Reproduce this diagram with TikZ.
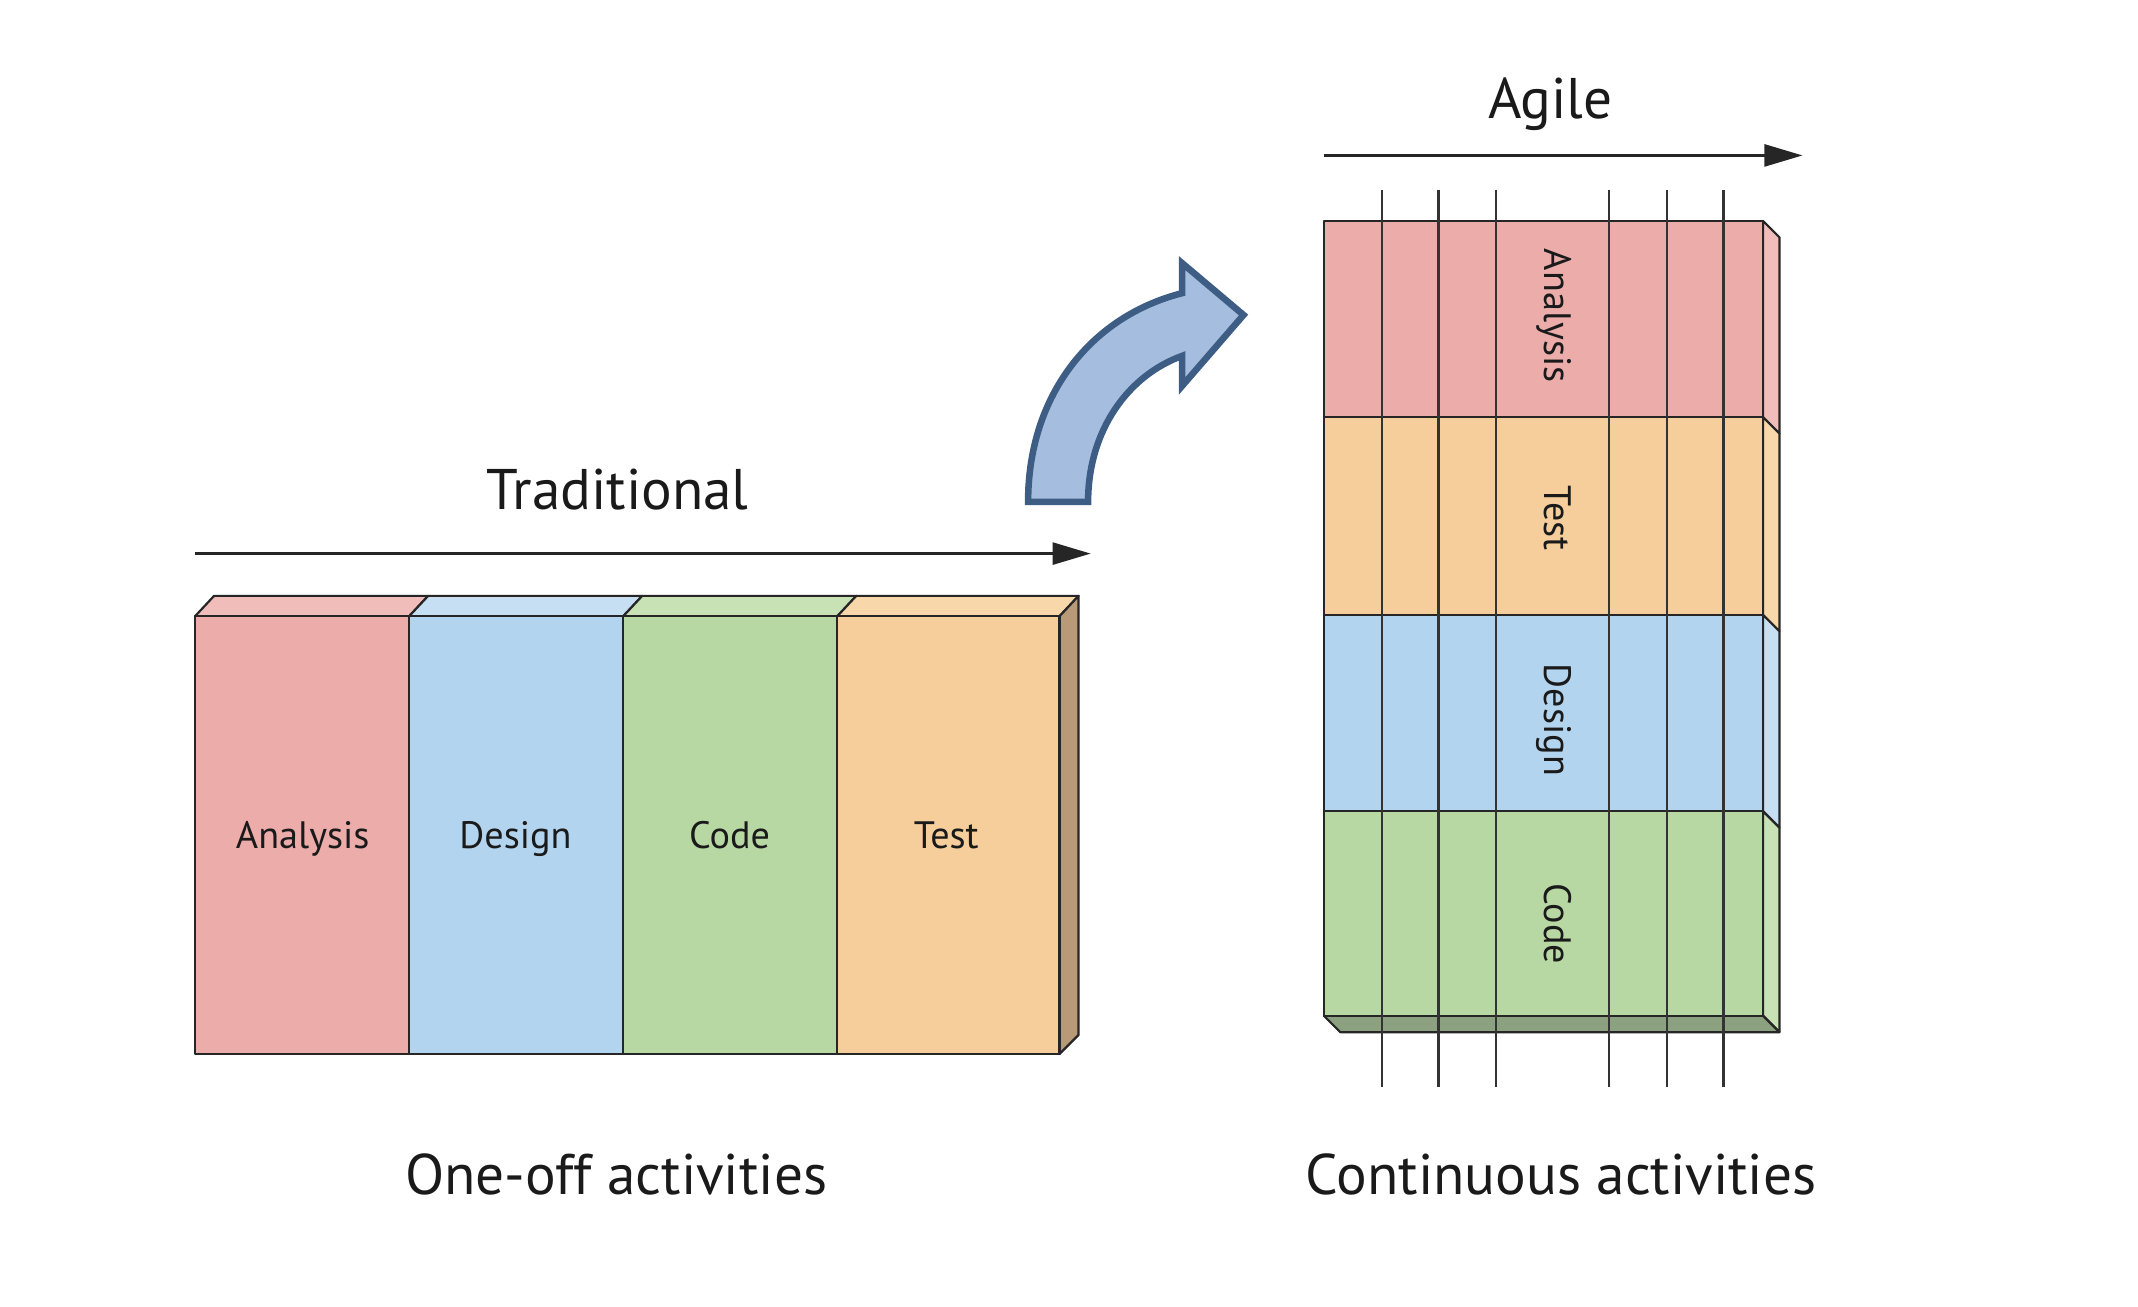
\documentclass[tikz,border=0pt]{standalone}
\usepackage{fontspec}
\setmainfont{PT Sans}
\usetikzlibrary{arrows.meta}
\definecolor{pinkF}{HTML}{EBACAA}
\definecolor{pinkT}{HTML}{F0BDBB}
\definecolor{blueF}{HTML}{B3D4EE}
\definecolor{blueT}{HTML}{C6DFF3}
\definecolor{greenF}{HTML}{B8D8A3}
\definecolor{greenT}{HTML}{C8E1B5}
\definecolor{orangeF}{HTML}{F5CE9C}
\definecolor{orangeT}{HTML}{F8D7AA}
\definecolor{brownS}{HTML}{B89A78}
\definecolor{greenB}{HTML}{8CA17F}
\definecolor{arrowFill}{HTML}{A5BDDE}
\definecolor{arrowLine}{HTML}{3E5D84}
\definecolor{txt}{HTML}{1A1A1A}
\begin{document}
\begin{tikzpicture}[x=0.5pt,y=-0.5pt,
  face/.style={draw=black!85, line width=0.8pt, line join=round},
  front/.style={face, rectangle, inner sep=0pt, outer sep=0pt},
  lbl/.style={font=\fontsize{14}{16}\selectfont, text=txt, inner sep=0pt, anchor=base},
  ttl/.style={font=\fontsize{21}{24}\selectfont, text=txt, inner sep=0pt, anchor=base},
  timeline/.style={line width=1.2pt, draw=black!85, -{Triangle[length=14pt,width=8pt]}},
  iterline/.style={line width=0.9pt, draw=black!80},
  bigarrow/.style={fill=arrowFill, draw=arrowLine, line width=2.4pt, line join=miter}]
\useasboundingbox (0,0) rectangle (1568,958);

% ---------------- Traditional ----------------
\node[ttl] (tradT) at (453,374) {Traditional};
\coordinate (tr0) at (143,406);
\coordinate (tr1) at (800,406);
\draw[timeline] (tr0) -- (tr1);

% top faces
\filldraw[face, fill=pinkT]   (143,452) -- (157,437) -- (314,437) -- (300,452) -- cycle;
\filldraw[face, fill=blueT]   (300,452) -- (314,437) -- (471,437) -- (457,452) -- cycle;
\filldraw[face, fill=greenT]  (457,452) -- (471,437) -- (628,437) -- (614,452) -- cycle;
\filldraw[face, fill=orangeT] (614,452) -- (628,437) -- (791,437) -- (777,452) -- cycle;
% right side
\filldraw[face, fill=brownS] (777,452) -- (791,437) -- (791,759) -- (777,773) -- cycle;
% front faces
\node[front, fill=pinkF,   minimum width=78.5pt, minimum height=160.5pt] (tA) at (221.5,612.5) {};
\node[front, fill=blueF,   minimum width=78.5pt, minimum height=160.5pt] (tD) at (378.5,612.5) {};
\node[front, fill=greenF,  minimum width=78.5pt, minimum height=160.5pt] (tC) at (535.5,612.5) {};
\node[front, fill=orangeF, minimum width=81.5pt, minimum height=160.5pt] (tT) at (695.5,612.5) {};
\node[lbl] (tAl) at (222,622) {Analysis};
\node[lbl] (tDl) at (378,622) {Design};
\node[lbl] (tCl) at (535,622) {Code};
\node[lbl] (tTl) at (694,622) {Test};

\node[ttl] (oneoff) at (452,876) {One-off activities};

% ---------------- curved arrow ----------------
\filldraw[bigarrow] (754,368) -- (798,368)
  .. controls (798,315) and (828,275) .. (867,261)
  -- (867,283) -- (912,231) -- (867,193) -- (867,215)
  .. controls (800,232) and (754,290) .. cycle;

% ---------------- Agile ----------------
\node[ttl] (agileT) at (1137,87) {Agile};
\coordinate (ag0) at (971,114);
\coordinate (ag1) at (1322,114);
\draw[timeline] (ag0) -- (ag1);

% side faces of rows
\filldraw[face, fill=pinkT]   (1293,162) -- (1305,174) -- (1305,318) -- (1293,306) -- cycle;
\filldraw[face, fill=orangeT] (1293,306) -- (1305,318) -- (1305,463) -- (1293,451) -- cycle;
\filldraw[face, fill=blueT]   (1293,451) -- (1305,463) -- (1305,607) -- (1293,595) -- cycle;
\filldraw[face, fill=greenT]  (1293,595) -- (1305,607) -- (1305,757) -- (1293,745) -- cycle;
% bottom face
\filldraw[face, fill=greenB] (971,745) -- (983,757) -- (1305,757) -- (1293,745) -- cycle;
% front rows
\node[front, fill=pinkF,   minimum width=161pt, minimum height=72pt]   (aA) at (1132,234) {};
\node[front, fill=orangeF, minimum width=161pt, minimum height=72.5pt] (aT) at (1132,378.5) {};
\node[front, fill=blueF,   minimum width=161pt, minimum height=72pt]   (aD) at (1132,523) {};
\node[front, fill=greenF,  minimum width=161pt, minimum height=75pt]   (aC) at (1132,670) {};
\node[lbl, rotate=-90] (aAl) at (1133,231.5) {Analysis};
\node[lbl, rotate=-90] (aTl) at (1133,380) {Test};
\node[lbl, rotate=-90] (aDl) at (1133,528) {Design};
\node[lbl, rotate=-90] (aCl) at (1133,677.5) {Code};

% iteration lines
\foreach \xx in {1013.5,1055,1097,1180,1222.5,1264}
  \draw[iterline] (\xx,139) -- (\xx,797);

\node[ttl] (contin) at (1145,876) {Continuous activities};
\end{tikzpicture}
\end{document}
